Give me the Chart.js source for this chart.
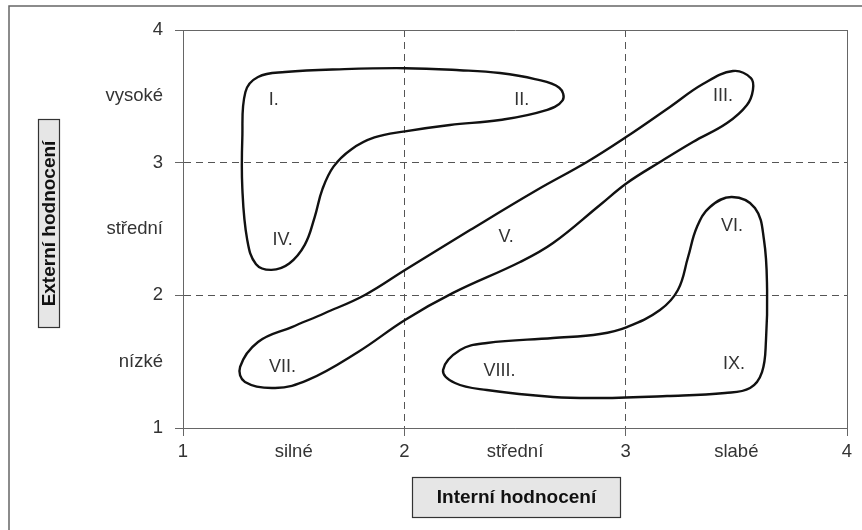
<!DOCTYPE html>
<html>
<head>
<meta charset="utf-8">
<script src="https://cdn.jsdelivr.net/npm/chart.js@4/dist/chart.umd.min.js"></script>
<style>
  body { margin: 0; background: #fff; }
  #wrap { width: 862px; height: 530px; position: relative; }
</style>
</head>
<body>
<div id="wrap"><canvas id="portfolio"></canvas></div>
<script>
// tick positions and labels on both axes
const xTickValues = [1, 1.5, 2, 2.5, 3, 3.5, 4];
const xTickLabels = ['1', 'silné', '2', 'střední', '3', 'slabé', '4'];
const yTickValues = [1, 1.5, 2, 2.5, 3, 3.5, 4];
const yTickLabels = ['1', 'nízké', '2', 'střední', '3', 'vysoké', '4'];

const xTitle = 'Interní hodnocení';
const yTitle = 'Externí hodnocení';

// region numbers inside the matrix
const regionLabels = ['I.', 'II.', 'III.', 'IV.', 'V.', 'VI.', 'VII.', 'VIII.', 'IX.'];
const regionX = [1.41, 2.53, 3.44, 1.45, 2.46, 3.48, 1.45, 2.43, 3.49];
const regionY = [3.47, 3.47, 3.50, 2.42, 2.44, 2.52, 1.46, 1.43, 1.48];

// closed outlines (x, y in axis units)
const shapeTopLeft = [
  [1.339, 3.646], [1.461, 3.683], [1.730, 3.705], [2.003, 3.712], [2.250, 3.697],
  [2.432, 3.676], [2.590, 3.630], [2.700, 3.565], [2.715, 3.470], [2.630, 3.390],
  [2.432, 3.322], [2.206, 3.284], [2.003, 3.236], [1.865, 3.190], [1.760, 3.100],
  [1.680, 2.970], [1.630, 2.800], [1.595, 2.590], [1.550, 2.380], [1.480, 2.240],
  [1.400, 2.192], [1.330, 2.235], [1.290, 2.420], [1.268, 2.809], [1.268, 3.186],
  [1.282, 3.533]
];
const shapeDiagonal = [
  [1.258, 1.460], [1.339, 1.648], [1.492, 1.761], [1.642, 1.867], [1.822, 2.003],
  [2.003, 2.191], [2.297, 2.492], [2.599, 2.794], [2.825, 3.005], [3.002, 3.193],
  [3.200, 3.420], [3.349, 3.593], [3.485, 3.691], [3.566, 3.638], [3.575, 3.548],
  [3.548, 3.435], [3.458, 3.299], [3.304, 3.156], [3.155, 3.005], [3.006, 2.847],
  [2.884, 2.681], [2.672, 2.394], [2.523, 2.251], [2.220, 2.018], [2.003, 1.814],
  [1.791, 1.573], [1.565, 1.362], [1.416, 1.302], [1.280, 1.347]
];
const shapeBottomRight = [
  [3.480, 2.741], [3.584, 2.658], [3.625, 2.417], [3.639, 2.040], [3.634, 1.663],
  [3.616, 1.422], [3.562, 1.302], [3.449, 1.264], [3.187, 1.241], [2.884, 1.226],
  [2.672, 1.234], [2.373, 1.286], [2.229, 1.339], [2.175, 1.437], [2.252, 1.588],
  [2.373, 1.641], [2.672, 1.678], [2.884, 1.709], [3.006, 1.761], [3.155, 1.889],
  [3.236, 2.040], [3.282, 2.289], [3.322, 2.515], [3.381, 2.666]
];

const FONT = "'Liberation Sans', Arial, sans-serif";

// wrap a closed outline so the curve stays smooth where it joins itself
function closedDataset(pts) {
  const n = pts.length;
  const ring = [pts[n - 1], ...pts, pts[0], pts[1]].map(p => ({ x: p[0], y: p[1] }));
  return {
    data: ring,
    showLine: true,
    borderColor: '#111',
    borderWidth: 2.4,
    pointRadius: 0,
    tension: 0.4,
    fill: false,
    segment: {
      borderColor: ctx => (ctx.p0DataIndex === 0 || ctx.p0DataIndex === n + 1) ? 'rgba(0,0,0,0)' : '#111'
    }
  };
}

function isHalf(v) { return Math.abs(v - Math.round(v)) > 0.01; }

function axisOptions(values, labels) {
  return {
    type: 'linear',
    min: 1,
    max: 4,
    afterBuildTicks: s => { s.ticks = values.map(v => ({ value: v })); },
    ticks: {
      autoSkip: false,
      maxRotation: 0,
      color: '#333',
      font: { family: FONT, size: 18.5 },
      callback: v => labels[values.indexOf(v)]
    },
    grid: {
      lineWidth: 1,
      color: ctx => {
        const v = ctx.tick ? ctx.tick.value : 0;
        if (isHalf(v)) return 'rgba(0,0,0,0)';
        return (v === 1 || v === 4) ? '#666' : '#555';
      },
      tickColor: ctx => (ctx.tick && isHalf(ctx.tick.value)) ? 'rgba(0,0,0,0)' : '#666',
      tickLength: 8,
      tickBorderDash: []
    },
    border: {
      display: true,
      color: '#666',
      width: 1,
      dash: ctx => (ctx.tick && (ctx.tick.value === 1 || ctx.tick.value === 4)) ? [] : [7, 5]
    }
  };
}

const xAxis = axisOptions(xTickValues, xTickLabels);
xAxis.position = 'bottom';
xAxis.ticks.padding = 5;
xAxis.afterFit = s => { s.height = 102; };

const yAxis = axisOptions(yTickValues, yTickLabels);
yAxis.position = 'left';
yAxis.ticks.padding = 12;
yAxis.afterFit = s => { s.width = 183; };

const decorations = {
  id: 'decorations',
  beforeDraw(chart) {
    const ctx = chart.ctx;
    ctx.save();
    ctx.fillStyle = '#fff';
    ctx.fillRect(0, 0, chart.width, chart.height);
    // outer frame
    ctx.strokeStyle = '#666';
    ctx.lineWidth = 1.5;
    ctx.strokeRect(9, 6, 860, 600);
    ctx.restore();
  },
  afterDraw(chart) {
    const ctx = chart.ctx;
    const xs = chart.scales.x, ys = chart.scales.y;
    ctx.save();
    // region numbers
    ctx.fillStyle = '#333';
    ctx.font = '18px ' + FONT;
    ctx.textAlign = 'center';
    ctx.textBaseline = 'middle';
    regionLabels.forEach((t, i) => {
      ctx.fillText(t, xs.getPixelForValue(regionX[i]), ys.getPixelForValue(regionY[i]));
    });
    // axis title boxes
    ctx.lineWidth = 1.2;
    ctx.strokeStyle = '#333';
    ctx.fillStyle = '#e6e6e6';
    ctx.fillRect(412, 477, 209, 41);
    ctx.strokeRect(412.5, 477.5, 208, 40);
    ctx.fillRect(38, 119, 22, 209);
    ctx.strokeRect(38.5, 119.5, 21, 208);
    ctx.fillStyle = '#111';
    ctx.font = 'bold 19px ' + FONT;
    ctx.fillText(xTitle, 516.5, 498);
    ctx.translate(50, 223.5);
    ctx.rotate(-Math.PI / 2);
    ctx.fillText(yTitle, 0, 0);
    ctx.restore();
  }
};

new Chart(document.getElementById('portfolio'), {
  type: 'scatter',
  data: {
    datasets: [
      closedDataset(shapeTopLeft),
      closedDataset(shapeDiagonal),
      closedDataset(shapeBottomRight)
    ]
  },
  options: {
    responsive: true,
    maintainAspectRatio: false,
    animation: false,
    layout: { padding: { top: 30, right: 15, left: 0, bottom: 0 } },
    plugins: {
      legend: { display: false },
      tooltip: { enabled: false }
    },
    scales: { x: xAxis, y: yAxis }
  },
  plugins: [decorations]
});
</script>
</body>
</html>
